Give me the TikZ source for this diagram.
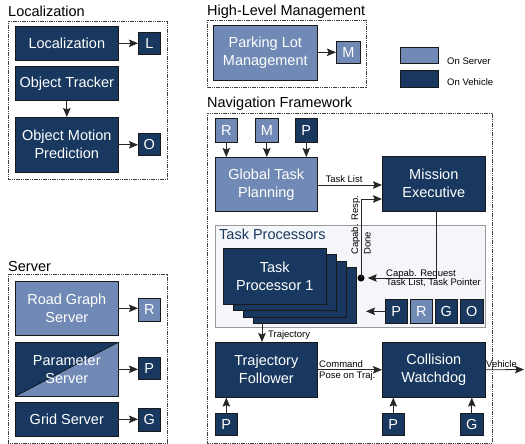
\documentclass[tikz,border=0pt]{standalone}
\usepackage{fontspec}
\setmainfont{Liberation Sans}
\usetikzlibrary{arrows.meta}
\definecolor{dk}{RGB}{24,56,95}
\definecolor{lt}{RGB}{113,138,181}
\definecolor{panelbg}{RGB}{245,246,249}
\begin{document}
\begin{tikzpicture}[x=1pt,y=-1pt,
  bx/.style={draw=black!90, line width=0.6pt, text=white, align=center, inner sep=0pt, anchor=north west, font=\fontsize{14.5}{18}\selectfont},
  dkb/.style={bx, fill=dk},
  ltb/.style={bx, fill=lt},
  sz/.style 2 args={minimum width=#1pt, minimum height=#2pt},
  frm/.style={draw=black!75, line width=0.6pt, dash pattern=on 1.2pt off 0.6pt},
  ttl/.style={anchor=base west, inner sep=0pt, font=\fontsize{14.5}{18}\selectfont},
  sml/.style={inner sep=0pt, font=\fontsize{9.5}{11}\selectfont},
  arr/.style={-{Stealth[length=9pt,width=7.5pt,inset=1.5pt]}, line width=0.8pt, draw=black!85},
]
\useasboundingbox (0,0) rectangle (525,444);

% ---------- Localization ----------
\node[ttl] (tLoc) at (8,17) {Localization};
\draw[frm] (8,21) rectangle (167,179);
\node[dkb, sz={103}{34}] (loc) at (15,26) {Localization};
\node[dkb, sz={22}{22}] (lL) at (138,32) {L};
\node[dkb, sz={103}{34}] (trk) at (15,66) {Object Tracker};
\node[dkb, sz={103}{55}] (omp) at (15,117) {Object Motion\\Prediction};
\node[dkb, sz={22}{22}] (lO) at (138,133) {O};
\draw[arr] (loc.east) -- (loc.east -| lL.west);
\draw[arr] (trk.south) -- (omp.north);
\draw[arr] (omp.east) -- (omp.east -| lO.west);

% ---------- Server ----------
\node[ttl] (tSrv) at (8,271.5) {Server};
\draw[frm] (8,274) rectangle (167,443);
\node[ltb, sz={103}{54}] (rgs) at (15,281) {Road Graph\\Server};
\node[ltb, sz={22}{23}] (sR) at (138,298) {R};
\node[bx, sz={103}{54},
  path picture={
    \fill[lt] (path picture bounding box.south west) -- (path picture bounding box.north east) -- (path picture bounding box.south east) -- cycle;
    \fill[dk] (path picture bounding box.south west) -- (path picture bounding box.north west) -- (path picture bounding box.north east) -- cycle;
    \draw[black, line width=0.5pt] (path picture bounding box.south west) -- (path picture bounding box.north east);}
  ] (ps) at (15,342) {Parameter\\Server};
\node[dkb, sz={22}{22}] (sP) at (138,357) {P};
\node[dkb, sz={103}{34}] (gs) at (15,402) {Grid Server};
\node[dkb, sz={22}{23}] (sG) at (138,408) {G};
\draw[arr] (rgs.east) -- (rgs.east -| sR.west);
\draw[arr] (ps.east) -- (ps.east -| sP.west);
\draw[arr] (gs.east) -- (gs.east -| sG.west);

% ---------- High-Level Management ----------
\node[ttl] (tHL) at (207,15.5) {High-Level Management};
\draw[frm] (207,20) rectangle (366,87);
\node[ltb, sz={104}{55}] (plm) at (213,25) {Parking Lot\\Management};
\node[ltb, sz={24}{22}] (hM) at (336,41) {M};
\draw[arr] (plm.east |- hM.west) -- (hM.west);

% ---------- Legend ----------
\node[ltb, sz={38}{16}] (legS) at (400,47) {};
\node[dkb, sz={38}{17}] (legV) at (400,70) {};
\node[sml, anchor=west] (legSt) at (447,61) {On Server};
\node[sml, anchor=west] (legVt) at (447,82) {On Vehicle};

% ---------- Navigation Framework ----------
\node[ttl] (tNav) at (207,107.5) {Navigation Framework};
\draw[frm] (207,113) rectangle (492,443);
\node[ltb, sz={22}{24}] (nR) at (215,118) {R};
\node[ltb, sz={23}{24}] (nM) at (255,118) {M};
\node[dkb, sz={22}{24}] (nP) at (295,118) {P};
\node[ltb, sz={102}{54}] (gtp) at (215,157) {Global Task\\Planning};
\node[dkb, sz={103}{55}] (me) at (382,156) {Mission\\Executive};
\draw[arr] (nR.south) -- (nR.south |- gtp.north);
\draw[arr] (nM.south) -- (nM.south |- gtp.north);
\draw[arr] (nP.south) -- (nP.south |- gtp.north);
\draw[arr] (gtp.east |- 0,185) -- (me.west |- 0,185);
\node[sml, anchor=base] (lTL) at (344,182.5) {Task List};

% Task processors panel
\draw[draw=black!40, fill=panelbg, line width=0.6pt] (215,225) rectangle (485,327);
\node[ttl, text=dk] (tTP) at (219,239.5) {Task Processors};
\foreach \i in {3,2,1} {
  \node[dkb, sz={103}{56}] (tp\i) at ({223+10*\i},{248+6.3*\i}) {};
}
\node[dkb, sz={103}{56}] (tp0) at (223,248) {Task\\Processor 1};
\node[dkb, sz={22}{24}] (pP) at (385,299) {P};
\node[ltb, sz={22}{24}] (pR) at (410,299) {R};
\node[dkb, sz={22}{24}] (pG) at (435,299) {G};
\node[dkb, sz={23}{24}] (pO) at (460,299) {O};
\coordinate (prgoTip) at (366,311);
\draw[arr] (pP.west) -- (pP.west -| prgoTip);

% capability connectors
\node[circle, fill=black, inner sep=0pt, minimum size=7pt] (dot) at (361,278) {};
\draw[arr] (dot.center) -- (361,199) -- (me.west |- 0,199);
\draw[arr, shorten >=3pt] (me.south -| 436,0) -- (436,278) -- (dot.east);
\node[sml, rotate=90, anchor=west, align=left, font=\fontsize{9.5}{12.5}\selectfont] (lCR) at (361,255) {Capab. Resp.\\Done};
\node[sml, anchor=north west, align=left, font=\fontsize{9.5}{9.8}\selectfont] (lCQ) at (386,269) {Capab. Request\\Task List, Task Pointer};

% bottom row
\node[dkb, sz={102}{55}] (tf) at (215,342) {Trajectory\\Follower};
\node[dkb, sz={103}{55}] (cw) at (382,342) {Collision\\Watchdog};
\draw[arr] (262,323) -- (tf.north -| 262,0);
\node[sml, anchor=west] (lTr) at (268,335) {Trajectory};
\draw[arr] (tf.east) -- (cw.west);
\node[sml, anchor=base west] (lCmd) at (319,367.5) {Command};
\node[sml, anchor=base west] (lPose) at (319,378) {Pose on Traj.};
\coordinate (veh) at (524,369.5);
\draw[arr] (cw.east) -- (veh);
\node[sml, anchor=base west] (lVeh) at (486,367.5) {Vehicle};

\node[dkb, sz={22}{22}] (bP1) at (215,413) {P};
\node[dkb, sz={22}{22}] (bP2) at (382,413) {P};
\node[dkb, sz={23}{22}] (bG) at (460,413) {G};
\draw[arr] (bP1.north) -- (bP1.north |- tf.south);
\draw[arr] (bP2.north) -- (bP2.north |- cw.south);
\draw[arr] (bG.north) -- (bG.north |- cw.south);
\end{tikzpicture}
\end{document}
